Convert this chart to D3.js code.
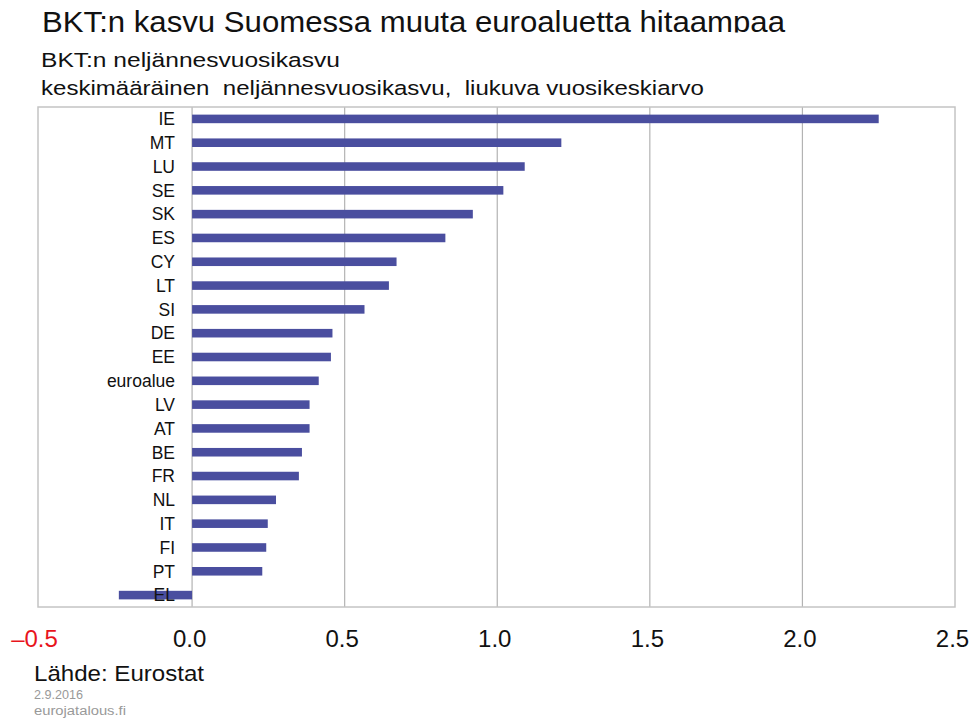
<!DOCTYPE html>
<html>
<head>
    <meta charset="utf-8">
    <title>BKT:n kasvu</title>
    <style>
        body { margin: 0; background: #fff; }
        text { font-family: "Liberation Sans", Arial, sans-serif; }
    </style>
</head>
<body>
    <div id="chart"></div>

    <script src="https://cdn.jsdelivr.net/npm/d3@7"></script>
    <script>
        // Data
        const countries = ["IE", "MT", "LU", "SE", "SK", "ES", "CY", "LT", "SI", "DE", "EE",
            "euroalue", "LV", "AT", "BE", "FR", "NL", "IT", "FI", "PT", "EL"];
        const growth = [2.25, 1.21, 1.09, 1.02, 0.92, 0.83, 0.67, 0.645, 0.565, 0.46, 0.455,
            0.415, 0.385, 0.385, 0.36, 0.35, 0.275, 0.248, 0.243, 0.23, -0.24];
        const tickValues = [-0.5, 0, 0.5, 1.0, 1.5, 2.0, 2.5];

        const width = 973, height = 722;
        const margin = { top: 107, right: 18, bottom: 115, left: 38 };

        const svg = d3.select("#chart").append("svg")
            .attr("width", width)
            .attr("height", height);

        const x = d3.scaleLinear()
            .domain([-0.5, 2.5])
            .range([margin.left + 1.5, width - margin.right]);

        const y = d3.scaleBand()
            .domain(countries)
            .range([margin.top, height - margin.bottom])
            .paddingInner(0.64)
            .paddingOuter(0.32);

        // helper: text stretched to a given width
        function label(txt, xPos, yPos, size, len, fill) {
            return svg.append("text")
                .attr("x", xPos).attr("y", yPos)
                .style("font-size", size + "px")
                .attr("fill", fill || "#111")
                .attr("textLength", len)
                .attr("lengthAdjust", "spacingAndGlyphs")
                .text(txt);
        }

        // titles (title is cut at the bottom like in the original)
        svg.append("clipPath").attr("id", "titleClip")
            .append("rect").attr("x", 0).attr("y", 0).attr("width", width).attr("height", 32.5);
        label("BKT:n kasvu Suomessa muuta euroaluetta hitaampaa", 42, 31.5, 29, 743)
            .attr("clip-path", "url(#titleClip)");
        label("BKT:n neljännesvuosikasvu", 41, 67, 20.5, 299);
        label("keskimääräinen  neljännesvuosikasvu,  liukuva vuosikeskiarvo", 41, 94.5, 20.5, 663)
            .attr("xml:space", "preserve");

        // gridlines
        svg.append("g")
            .selectAll("line")
            .data(tickValues.filter(d => d > -0.5 && d < 2.5))
            .join("line")
            .attr("x1", d => x(d)).attr("x2", d => x(d))
            .attr("y1", margin.top).attr("y2", height - margin.bottom)
            .attr("stroke", "#b3b3b3")
            .attr("stroke-width", 1.2);

        // plot frame
        svg.append("rect")
            .attr("x", margin.left).attr("y", margin.top)
            .attr("width", width - margin.right - margin.left)
            .attr("height", height - margin.bottom - margin.top)
            .attr("fill", "none")
            .attr("stroke", "#c4c4c4")
            .attr("stroke-width", 1.5);

        // bars
        svg.append("g")
            .selectAll("rect")
            .data(countries)
            .join("rect")
            .attr("x", (d, i) => x(Math.min(0, growth[i])))
            .attr("y", d => y(d))
            .attr("width", (d, i) => Math.abs(x(growth[i]) - x(0)))
            .attr("height", y.bandwidth())
            .attr("fill", "#4a4e9f");

        // category labels
        svg.append("g")
            .selectAll("text")
            .data(countries)
            .join("text")
            .attr("x", 175)
            .attr("y", d => y(d) + y.bandwidth() / 2)
            .attr("dy", "0.36em")
            .attr("text-anchor", "end")
            .style("font-size", "17.5px")
            .attr("fill", "#111")
            .text(d => d);

        // x axis tick labels
        const axis = svg.append("g")
            .attr("transform", `translate(-3,${height - margin.bottom})`)
            .call(d3.axisBottom(x)
                .tickValues(tickValues)
                .tickSize(0)
                .tickPadding(23)
                .tickFormat(d => d < 0 ? "\u2013" + d3.format(".1f")(-d) : d3.format(".1f")(d)));
        axis.select(".domain").remove();
        axis.selectAll("text")
            .style("font-size", "24px")
            .attr("fill", d => d < 0 ? "#e8141c" : "#111");
        axis.selectAll(".tick").filter(d => d < 0)
            .attr("transform", `translate(${x(-0.5) - 2},0)`);

        // footer
        label("Lähde: Eurostat", 34, 680.5, 22.5, 170);
        label("2.9.2016", 34, 699, 12.5, 49, "#999");
        label("eurojatalous.fi", 34, 715, 12.5, 92, "#999");
    </script>
</body>
</html>
